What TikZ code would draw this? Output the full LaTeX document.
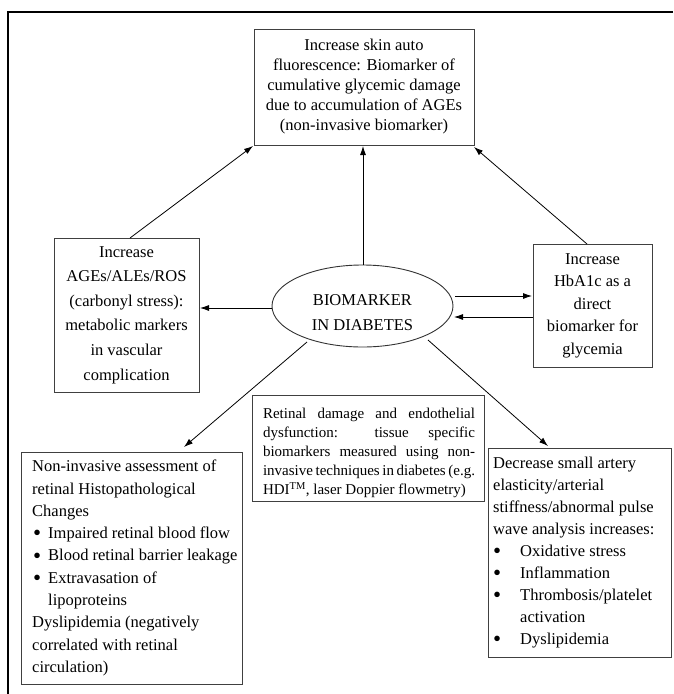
\documentclass[tikz,border=0pt]{standalone}
\usepackage{fontspec}
\setmainfont{Liberation Serif}
\usetikzlibrary{shapes.geometric,arrows.meta}
\newcommand\bigbul{\raisebox{-2.2pt}{\fontsize{23}{23}\selectfont •}}
\newcommand\bulA{\hspace*{1pt}\makebox[15pt][l]{\bigbul}}
\newcommand\bulB{\hspace*{0pt}\makebox[27pt][l]{\bigbul}}
\newcommand\jline[1]{\makebox[212pt][s]{#1}}
\begin{document}
\begin{tikzpicture}[x=1pt,y=-1pt]
\tikzset{
  box/.style={draw=black!75, line width=0.9pt, inner sep=0pt, rectangle},
  arr/.style={-{Latex[length=9pt,width=6pt]}, line width=0.8pt, black},
  txt/.style={inner sep=0pt, align=left}
}
\useasboundingbox (0,0) rectangle (673,694);
\fill[white] (0,0) rectangle (673,694);
\draw[line width=1.3pt] (673,12) -- (8,12) -- (8,694);

% top box
\node[box, minimum width=220pt, minimum height=116pt, align=center,
  font=\fontsize{16.5}{20}\selectfont] (top) at (364,87)
  {Increase skin auto\\fluorescence: Biomarker of\\cumulative glycemic damage\\due to accumulation of AGEs\\(non-invasive biomarker)};

% left box
\node[box, minimum width=145pt, minimum height=154pt, align=center,
  font=\fontsize{16.5}{24.6}\selectfont] (left) at (126.5,315)
  {Increase\\AGEs/ALEs/ROS\\(carbonyl stress):\\metabolic markers\\in vascular\\complication};

% right box
\node[box, minimum width=119pt, minimum height=123pt, align=center,
  font=\fontsize{16.5}{22.5}\selectfont] (right) at (592.5,305.5)
  {Increase\\HbA1c as a\\direct\\biomarker for\\glycemia};

% ellipse
\node[draw=black!80, line width=0.9pt, ellipse, minimum width=181pt, minimum height=82pt, inner sep=0pt] (bio) at (362.5,306) {};
\node[align=center, inner sep=0pt, font=\fontsize{16.5}{25}\selectfont] (biotext) at (362.5,312.5) {BIOMARKER\\IN DIABETES};

% bottom-left box
\node[box, minimum width=221pt, minimum height=232pt] (bl) at (131.5,568) {};
\node[txt, anchor=west, font=\fontsize{16.5}{22.3}\selectfont] (bltext) at (32,568)
  {Non-invasive assessment of\\
   retinal Histopathological\\
   Changes\\
   \bulA Impaired retinal blood flow\\
   \bulA Blood retinal barrier leakage\\
   \bulA Extravasation of\\
   \hspace*{16pt}lipoproteins\\
   Dyslipidemia (negatively\\
   correlated with retinal\\
   circulation)};

% middle box
\node[box, minimum width=232pt, minimum height=106pt] (mid) at (368,448) {};
\node[txt, font=\fontsize{15}{19}\selectfont] (midtext) at (369,453)
  {\jline{Retinal damage and endothelial}\\
   \jline{dysfunction: tissue specific}\\
   \jline{biomarkers measured using non-}\\
   \jline{invasive techniques in diabetes (e.g.}\\
   \makebox[212pt][l]{HDI\textsuperscript{TM}, laser Doppier flowmetry)}};

% bottom-right box
\node[box, minimum width=183pt, minimum height=209pt] (br) at (579.5,552.5) {};
\node[txt, anchor=west, font=\fontsize{16.5}{21.9}\selectfont] (brtext) at (493,552.5)
  {Decrease small artery\\
   elasticity/arterial\\
   stiffness/abnormal pulse\\
   wave analysis increases:\\
   \bulB Oxidative stress\\
   \bulB Inflammation\\
   \bulB Thrombosis/platelet\\
   \hspace*{27pt}activation\\
   \bulB Dyslipidemia};

% connectors
\coordinate (c1) at (363,265);
\coordinate (c1e) at (363,146);
\draw[arr] (c1) -- (c1e);
\coordinate (c2) at (130,238);
\coordinate (c2e) at (253,146);
\draw[arr] (c2) -- (c2e);
\coordinate (c3) at (587,244);
\coordinate (c3e) at (474,147);
\draw[arr] (c3) -- (c3e);
\coordinate (c4) at (272,308);
\coordinate (c4e) at (200,308);
\draw[arr] (c4) -- (c4e);
\coordinate (c5) at (455,296);
\coordinate (c5e) at (532,296);
\draw[arr] (c5) -- (c5e);
\coordinate (c6) at (533,317);
\coordinate (c6e) at (454,317);
\draw[arr] (c6) -- (c6e);
\coordinate (c7) at (307,342);
\coordinate (c7e) at (184,447);
\draw[arr] (c7) -- (c7e);
\coordinate (c8) at (428,340);
\coordinate (c8e) at (548,446);
\draw[arr] (c8) -- (c8e);
\end{tikzpicture}
\end{document}
